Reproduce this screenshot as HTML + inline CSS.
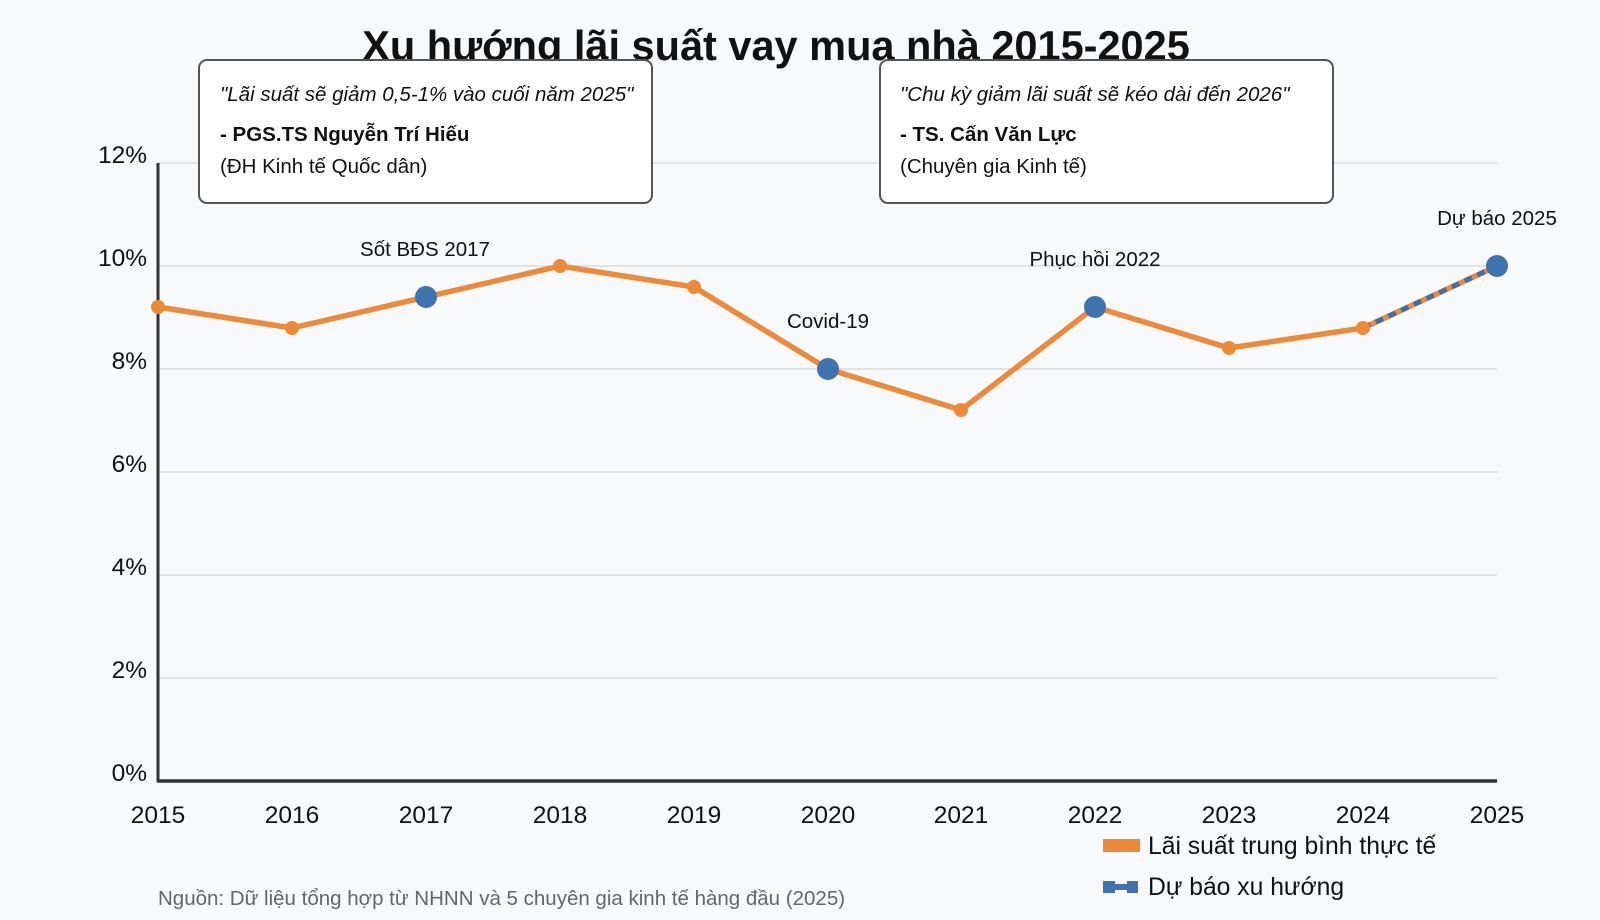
<!DOCTYPE html>
<html><head><meta charset="utf-8"><style>body{margin:0;background:#f8f9fb}svg{display:block;font-family:"Liberation Sans",sans-serif}</style></head><body>
<svg width="1600" height="920" viewBox="0 0 1600 920">
<rect width="1600" height="920" fill="#f8f9fb"/>
<text x="776" y="60" text-anchor="middle" font-size="41.5" font-weight="bold" fill="#111">Xu hướng lãi suất vay mua nhà 2015-2025</text>
<g stroke="#dcdcdc" stroke-width="1.5">
<line x1="158" x2="1497" y1="163" y2="163"/><line x1="158" x2="1497" y1="266" y2="266"/><line x1="158" x2="1497" y1="369" y2="369"/><line x1="158" x2="1497" y1="472" y2="472"/><line x1="158" x2="1497" y1="575" y2="575"/><line x1="158" x2="1497" y1="678" y2="678"/>
</g>
<g font-size="24.5" fill="#111" text-anchor="end">
<text x="147" y="163">12%</text><text x="147" y="266">10%</text><text x="147" y="369">8%</text><text x="147" y="472">6%</text><text x="147" y="575">4%</text><text x="147" y="678">2%</text><text x="147" y="781">0%</text>
</g>
<line x1="158" y1="163" x2="158" y2="782" stroke="#333" stroke-width="3"/>
<line x1="157" y1="781" x2="1497" y2="781" stroke="#333" stroke-width="3.5"/>
<g font-size="24.5" fill="#111" text-anchor="middle">
<text x="158" y="823">2015</text><text x="292" y="823">2016</text><text x="426" y="823">2017</text><text x="560" y="823">2018</text><text x="694" y="823">2019</text><text x="828" y="823">2020</text><text x="961" y="823">2021</text><text x="1095" y="823">2022</text><text x="1229" y="823">2023</text><text x="1363" y="823">2024</text><text x="1497" y="823">2025</text>
</g>
<polyline fill="none" stroke="#ec8a3a" stroke-width="5.5" stroke-linejoin="round" points="158,307 292,328 426,297 560,266 694,287 828,369 961,410 1095,307 1229,348 1363,328 1497,266"/>
<line x1="1363" y1="328" x2="1497" y2="266" stroke="#3f6fa8" stroke-width="5" stroke-dasharray="8,6"/>
<g fill="#ec8a3a"><circle cx="158" cy="307" r="7"/><circle cx="292" cy="328" r="7"/><circle cx="560" cy="266" r="7"/><circle cx="694" cy="287" r="7"/><circle cx="961" cy="410" r="7"/><circle cx="1229" cy="348" r="7"/><circle cx="1363" cy="328" r="7"/></g>
<g fill="#3f73b0"><circle cx="426" cy="297" r="11"/><circle cx="828" cy="369" r="11"/><circle cx="1095" cy="307" r="11"/><circle cx="1497" cy="266" r="11"/></g>
<g font-size="20.5" fill="#111" text-anchor="middle">
<text x="425" y="256">Sốt BĐS 2017</text><text x="828" y="328">Covid-19</text><text x="1095" y="266">Phục hồi 2022</text><text x="1497" y="225">Dự báo 2025</text>
</g>
<rect x="199" y="60" width="453" height="143" rx="8" fill="#fff" stroke="#555" stroke-width="2"/>
<text x="220" y="101" font-size="20.5" font-style="italic" fill="#111">"Lãi suất sẽ giảm 0,5-1% vào cuối năm 2025"</text>
<text x="220" y="141" font-size="20.5" font-weight="bold" fill="#111">- PGS.TS Nguyễn Trí Hiếu</text>
<text x="220" y="173" font-size="20.5" fill="#111">(ĐH Kinh tế Quốc dân)</text>
<rect x="880" y="60" width="453" height="143" rx="8" fill="#fff" stroke="#555" stroke-width="2"/>
<text x="900" y="101" font-size="20.5" font-style="italic" fill="#111">"Chu kỳ giảm lãi suất sẽ kéo dài đến 2026"</text>
<text x="900" y="141" font-size="20.5" font-weight="bold" fill="#111">- TS. Cấn Văn Lực</text>
<text x="900" y="173" font-size="20.5" fill="#111">(Chuyên gia Kinh tế)</text>
<rect x="1103" y="839" width="37" height="13" fill="#ec8a3a"/>
<text x="1148" y="854" font-size="24.7" fill="#111">Lãi suất trung bình thực tế</text>
<path d="M1103 881h12v3h12v-3h11v12h-11v-3h-12v3h-12z" fill="#3f73b0"/>
<text x="1148" y="895" font-size="24.7" fill="#111">Dự báo xu hướng</text>
<text x="158" y="905" font-size="20.5" fill="#666">Nguồn: Dữ liệu tổng hợp từ NHNN và 5 chuyên gia kinh tế hàng đầu (2025)</text>
</svg>
</body></html>
